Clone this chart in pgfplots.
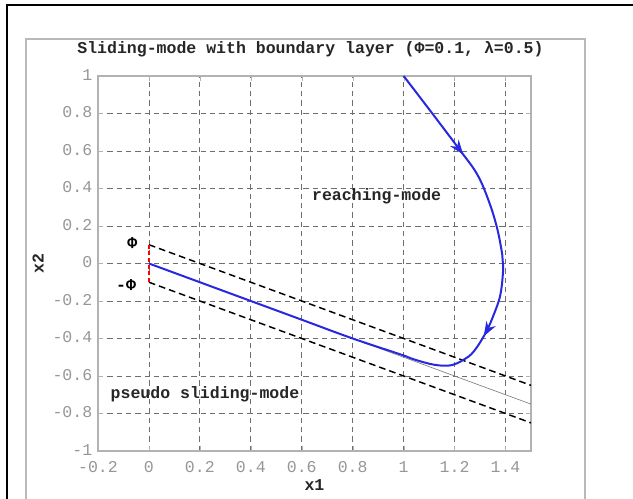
\documentclass[border=0pt]{standalone}
\usepackage{fontspec}
\setmainfont{Liberation Mono}
\usepackage{pgfplots}
\pgfplotsset{compat=1.18}
\usetikzlibrary{arrows.meta,decorations.markings}

\definecolor{trajblue}{RGB}{40,40,225}
\definecolor{tickgray}{RGB}{150,150,150}
\definecolor{gridgray}{RGB}{110,110,110}

\begin{document}
\fontsize{12.4}{14}\selectfont
\begin{tikzpicture}
\useasboundingbox (0,0) rectangle (474.75pt,374.25pt);
\begin{scope}
\clip (0,0) rectangle (474.75pt,374.25pt);
\draw[black, line width=1.6pt] (5.25pt,-20pt) rectangle (520pt,370.5pt);
\draw[gray!55, line width=1.1pt] (19.5pt,-20pt) rectangle (438.75pt,345pt);
\end{scope}
\begin{axis}[at={(73.5pt,36pt)}, anchor=south west, scale only axis,
  width=324.75pt, height=281.25pt,
  xmin=-0.2, xmax=1.5, ymin=-1, ymax=1,
  xtick={-0.2,0,0.2,0.4,0.6,0.8,1,1.2,1.4},
  xticklabels={-0.2,0,0.2,0.4,0.6,0.8,1,1.2,1.4},
  ytick={-1,-0.8,-0.6,-0.4,-0.2,0,0.2,0.4,0.6,0.8,1},
  yticklabels={-1,-0.8,-0.6,-0.4,-0.2,0,0.2,0.4,0.6,0.8,1},
  tick label style={font=\fontsize{12.4}{14}\selectfont, text=tickgray},
  xticklabel style={yshift=-3.5pt},
  yticklabel style={yshift=1pt},
  axis line style={gray!60, line width=0.8pt},
  major tick style={gray!60}, major tick length=4pt,
  grid=major, grid style={gridgray, line width=0.6pt, dash pattern=on 4pt off 3pt},
  title={\bfseries Sliding-mode with boundary layer (Φ=0.1, λ=0.5)},
  title style={at={(0.5,1)}, anchor=center, yshift=14.25pt, xshift=-3pt, text=black!85},
  xlabel={\bfseries x1}, ylabel={\bfseries x2},
  xlabel style={at={(0.5,0)}, anchor=center, yshift=-25.5pt, text=black!85},
  ylabel style={at={(0,0.5)}, anchor=center, yshift=45pt, text=black!85},
]
% sliding surface s = x2 + 0.5 x1 = 0
\addplot[gray, line width=0.5pt] coordinates {(0,0) (1.5,-0.75)};
% boundary layer |s| = 0.1
\addplot[black, line width=1.1pt, dash pattern=on 5pt off 3pt] coordinates {(0,0.1) (1.5,-0.65)};
\addplot[black, line width=1.1pt, dash pattern=on 5pt off 3pt] coordinates {(0,-0.1) (1.5,-0.85)};
% Phi marker at x1 = 0
\addplot[red, line width=1pt, dash pattern=on 3pt off 2pt] coordinates {(0,0.1) (0,-0.1)};
% state trajectory
\addplot[trajblue, line width=1.5pt, smooth, tension=0.6,
  postaction={decorate},
  decoration={markings,
    mark=at position 0.15 with {\arrow{Stealth[length=11pt,width=8pt]}},
    mark=at position 0.445 with {\arrow{Stealth[length=11pt,width=8pt]}}}]
  coordinates {
  (1.0,1.0) (1.107,0.81) (1.218,0.61) (1.289,0.475) (1.335,0.33)
  (1.367,0.188) (1.387,0.048) (1.391,-0.023) (1.38,-0.165) (1.354,-0.272)
  (1.322,-0.37) (1.276,-0.468) (1.237,-0.512) (1.185,-0.543) (1.12,-0.54)
  (1.042,-0.512) (0.99,-0.486) (0.8,-0.40) (0.6,-0.30) (0.4,-0.20)
  (0.2,-0.10) (0,0)};
\node[font=\bfseries, text=black!85] at (axis cs:0.894,0.357) {reaching-mode};
\node[font=\bfseries, text=black!85] at (axis cs:0.22,-0.70) {pseudo sliding-mode};
\node[font=\bfseries] at (axis cs:-0.065,0.11) {Φ};
\node[font=\bfseries] at (axis cs:-0.09,-0.115) {-Φ};
\end{axis}
\end{tikzpicture}
\end{document}
